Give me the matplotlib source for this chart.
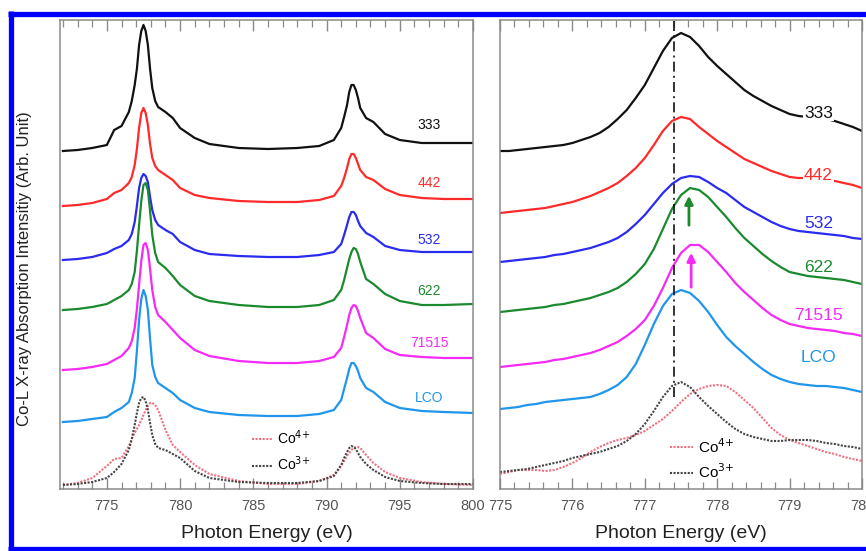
"""Co L-edge XAS: full spectra (left) and L3 zoom (right)."""
import matplotlib

matplotlib.use("Agg")
import matplotlib.pyplot as plt
from matplotlib.lines import Line2D
from matplotlib.ticker import MultipleLocator

plt.rcParams["font.family"] = ["Liberation Sans", "DejaVu Sans"]

# colours
C_333 = "#111111"
C_442 = "#ff2a2a"
C_532 = "#2b2bf0"
C_622 = "#1b8a2e"
C_71515 = "#f52af5"
C_LCO = "#1f96ec"
C_CO4 = "#f07080"
C_CO3 = "#444444"
C_AXIS = "#8a8a8a"
C_TICK = "#555555"

# ---- left panel: photon energy (eV) and stacked intensities (arb.) ----
e_left = [772, 773, 774, 775, 775.5, 776, 776.5, 776.7, 776.9, 777.05, 777.2,
          777.35, 777.5, 777.65, 777.8, 777.95, 778.1, 778.3, 778.5, 779,
          779.5, 780, 781, 782, 784, 786, 788, 789.5, 790.5, 791, 791.2,
          791.4, 791.55, 791.7, 791.85, 792, 792.15, 792.3, 792.7, 793.2, 794,
          795, 796.5, 798, 800]
l_333 = [338, 339, 341, 344, 359, 363, 377, 388, 404, 420, 444, 458, 464, 458,
         444, 420, 401, 388, 382, 377, 371, 361, 351, 345, 341, 340, 341, 343,
         349, 361, 372, 384, 397, 404, 404, 399, 391, 381, 371, 367, 355, 349,
         346, 346, 346]
l_442 = [283, 284, 286, 290, 296, 299, 306, 312, 324, 340, 361, 376, 381, 376,
         364, 345, 331, 323, 319, 314, 309, 301, 294, 291, 288, 287, 287, 289,
         293, 303, 311, 321, 330, 335, 335, 331, 325, 319, 312, 309, 300, 294,
         291, 290, 290]
l_532 = [229, 230, 232, 236, 240, 243, 249, 255, 267, 283, 301, 311, 315, 313,
         307, 292, 279, 269, 264, 259, 255, 247, 239, 235, 233, 232, 232, 234,
         237, 245, 254, 264, 272, 277, 277, 274, 268, 263, 256, 252, 243, 239,
         237, 237, 237]
l_622 = [179, 180, 182, 185, 189, 193, 199, 205, 217, 238, 264, 288, 304, 306,
         299, 278, 254, 236, 227, 221, 213, 204, 193, 188, 184, 182, 182, 184,
         189, 199, 209, 221, 230, 237, 241, 240, 235, 227, 210, 205, 195, 188,
         184, 184, 185]
l_71515 = [119, 120, 122, 125, 129, 133, 141, 148, 161, 180, 204, 228, 244, 246,
           239, 220, 199, 182, 174, 167, 159, 151, 139, 133, 128, 126, 126,
           128, 132, 141, 152, 164, 174, 181, 184, 183, 178, 171, 156, 151, 140,
           134, 132, 131, 131]
l_lco = [67, 68, 70, 72, 77, 81, 87, 96, 111, 138, 169, 190, 199, 193, 179,
         150, 124, 112, 106, 101, 96, 89, 81, 77, 74, 73, 73, 75, 79, 89, 100,
         111, 120, 126, 126, 123, 118, 111, 101, 97, 87, 81, 78, 77, 76]
l_co3 = [4, 5, 7, 11, 17, 25, 39, 50, 64, 76, 86, 91, 92, 88, 79, 66, 54, 45,
         41, 39, 35, 31, 18, 11, 7, 6, 6, 8, 13, 24, 31, 37, 41, 43, 42, 40, 36,
         32, 25, 19, 12, 8, 6, 5, 5]
l_co4 = [4, 6, 11, 23, 30, 31, 43, 50, 56, 60, 64, 69, 74, 79, 83, 86, 86, 84,
         79, 59, 44, 37, 24, 15, 8, 5, 5, 8, 14, 23, 28, 33, 36, 39, 41, 42, 42,
         41, 34, 26, 17, 11, 7, 5, 4]

# ---- right panel: L3 edge zoom ----
e_right = [775.0, 775.125, 775.25, 775.375, 775.5, 775.625, 775.75, 775.875,
           776.0, 776.125, 776.25, 776.375, 776.5, 776.625, 776.75, 776.875,
           777.0, 777.125, 777.25, 777.375, 777.5, 777.625, 777.75, 777.875,
           778.0, 778.125, 778.25, 778.375, 778.5, 778.625, 778.75, 778.875,
           779.0, 779.125, 779.25, 779.375, 779.5, 779.625, 779.75, 779.875,
           780.0]
r_333 = [338, 338, 339, 340, 341, 342, 343, 344, 346, 349, 352, 356, 362, 370,
         379, 391, 404, 421, 438, 451, 456, 452, 443, 432, 423, 415, 407, 399,
         393, 388, 383, 379, 375, 373, 372, 371, 370, 368, 365, 362, 358]
r_442 = [276, 277, 278, 279, 280, 281, 283, 285, 287, 290, 293, 297, 301, 306,
         313, 321, 331, 344, 358, 368, 372, 370, 362, 355, 348, 342, 336, 330,
         326, 322, 318, 315, 312, 311, 311, 310, 310, 308, 306, 304, 301]
r_532 = [227, 228, 229, 230, 231, 232, 234, 235, 237, 239, 241, 244, 247, 251,
         257, 265, 274, 285, 296, 305, 311, 313, 312, 307, 301, 296, 289, 282,
         277, 272, 267, 263, 260, 258, 257, 256, 255, 254, 253, 251, 250]
r_622 = [177, 178, 179, 180, 181, 182, 184, 185, 187, 189, 191, 194, 197, 201,
         207, 215, 225, 240, 260, 280, 294, 301, 299, 292, 282, 272, 261, 251,
         243, 235, 228, 222, 217, 215, 213, 212, 211, 210, 209, 207, 205]
r_71515 = [122, 123, 124, 125, 126, 127, 129, 130, 132, 134, 136, 139, 143, 147,
           153, 160, 169, 183, 201, 221, 236, 244, 244, 237, 227, 217, 206, 197,
           189, 181, 174, 169, 165, 163, 161, 160, 159, 158, 156, 155, 153]
r_lco = [80, 81, 82, 84, 85, 87, 88, 89, 90, 91, 92, 95, 99, 104, 112, 125,
         144, 165, 183, 195, 199, 196, 188, 177, 164, 152, 143, 135, 127, 120,
         114, 110, 107, 105, 104, 103, 103, 102, 101, 99, 97]
r_co3 = [17, 18, 19, 20, 22, 24, 26, 28, 31, 33, 35, 37, 40, 43, 48, 55, 65,
         78, 92, 103, 107, 102, 92, 83, 75, 67, 60, 55, 52, 50, 48, 48, 49, 49,
         49, 48, 46, 45, 43, 42, 40]
r_co4 = [15, 17, 19, 19, 19, 18, 19, 22, 26, 31, 37, 42, 46, 49, 51, 54, 58,
         64, 70, 78, 87, 95, 100, 103, 104, 103, 97, 89, 81, 71, 61, 54, 49, 46,
         43, 40, 37, 35, 32, 30, 28]

sample_names = ["333", "442", "532", "622", "71515", "LCO"]
sample_colors = [C_333, C_442, C_532, C_622, C_71515, C_LCO]
left_series = [l_333, l_442, l_532, l_622, l_71515, l_lco]
right_series = [r_333, r_442, r_532, r_622, r_71515, r_lco]

# label anchor heights (same units as the spectra)
left_label_y = [364, 306, 249, 198, 146, 91]
right_label_y = [376, 314, 266, 222, 174, 132]

co3_peak = 777.4  # dash-dot reference line
arrow_622 = (777.61, 261, 296)
arrow_71515 = (777.64, 199, 239)

DOT = (0, (1.0, 0.7))


def _style_axis(ax, xlim, major, minor):
    ax.set_xlim(*xlim)
    ax.set_ylim(0, 469)
    ax.set_yticks([])
    for spine in ax.spines.values():
        spine.set_color(C_AXIS)
        spine.set_linewidth(1.1)
    ax.xaxis.set_major_locator(MultipleLocator(major))
    ax.xaxis.set_minor_locator(MultipleLocator(minor))
    ax.tick_params(axis="x", which="both", direction="in", top=True,
                   color=C_AXIS, labelcolor=C_TICK, labelsize=10.5, pad=7)
    ax.tick_params(axis="x", which="major", length=8, width=1.0)
    ax.tick_params(axis="x", which="minor", length=5, width=0.9)
    ax.set_xlabel("Photon Energy (eV)", fontsize=14, color="#222222",
                  labelpad=9)


fig = plt.figure(figsize=(8.66, 5.51), dpi=100, facecolor="white")
ax_l = fig.add_axes([60 / 866, 62 / 551, 413 / 866, 469 / 551])
ax_r = fig.add_axes([500 / 866, 62 / 551, 362 / 866, 469 / 551])

# left panel
for vals, col in zip(left_series, sample_colors):
    ax_l.plot(e_left, vals, color=col, lw=1.6)
ax_l.plot(e_left, l_co4, color=C_CO4, lw=1.5, ls=DOT, label="Co$^{4{+}}$")
ax_l.plot(e_left, l_co3, color=C_CO3, lw=1.5, ls=DOT, label="Co$^{3{+}}$")
for name, col, y in zip(sample_names, sample_colors, left_label_y):
    ax_l.text(797.0, y, name, color=col, fontsize=10, ha="center",
              va="center")
_style_axis(ax_l, (771.8, 800), 5, 1)
ax_l.legend(loc="center left", bbox_to_anchor=(0.465, 0.081), frameon=False,
            fontsize=10, handlelength=1.5, handletextpad=0.3,
            labelspacing=0.55, borderpad=0, borderaxespad=0)

# right panel
for vals, col in zip(right_series, sample_colors):
    ax_r.plot(e_right, vals, color=col, lw=1.6)
ax_r.plot(e_right, r_co4, color=C_CO4, lw=1.5, ls=DOT, label="Co$^{4{+}}$")
ax_r.plot(e_right, r_co3, color=C_CO3, lw=1.5, ls=DOT, label="Co$^{3{+}}$")
for name, col, y in zip(sample_names, sample_colors, right_label_y):
    box = None
    if name in ("333", "442"):
        box = dict(facecolor="white", edgecolor="none", pad=0.6)
    ax_r.text(779.4, y, name, color=col, fontsize=12.5, ha="center",
              va="center", bbox=box)
ax_r.plot([co3_peak, co3_peak], [92, 469], color="#111111", lw=1.2,
          ls=(0, (6, 2.5, 1.2, 2.5)))
for (xa, y0, y1), col in zip([arrow_622, arrow_71515], [C_622, C_71515]):
    ax_r.annotate("", xy=(xa, y1), xytext=(xa, y0),
                  arrowprops=dict(arrowstyle="-|>", color=col, lw=2.0,
                                  mutation_scale=12))
_style_axis(ax_r, (775, 780), 1, 0.2)
ax_r.legend(loc="center left", bbox_to_anchor=(0.47, 0.064), frameon=False,
            fontsize=11, handlelength=1.5, handletextpad=0.3,
            labelspacing=0.45, borderpad=0, borderaxespad=0)

fig.text(25 / 866, 0.5 + 7 / 551, "Co-L X-ray Absorption Intensitiy (Arb. Unit)",
         rotation=90, ha="center", va="center", fontsize=12, color="#222222")

# blue frame around the figure (right edge is cropped in the original)
frame = dict(color="#0000ff", lw=3.8, solid_capstyle="butt")
fig.add_artist(Line2D([10.5 / 866, 10.5 / 866], [0, 1 - 11 / 551], **frame))
fig.add_artist(Line2D([8 / 866, 1], [1 - 13.5 / 551] * 2, **frame))
fig.add_artist(Line2D([8 / 866, 1], [2.5 / 551] * 2, **frame))

fig.savefig("out.png", dpi=100, facecolor="white")
